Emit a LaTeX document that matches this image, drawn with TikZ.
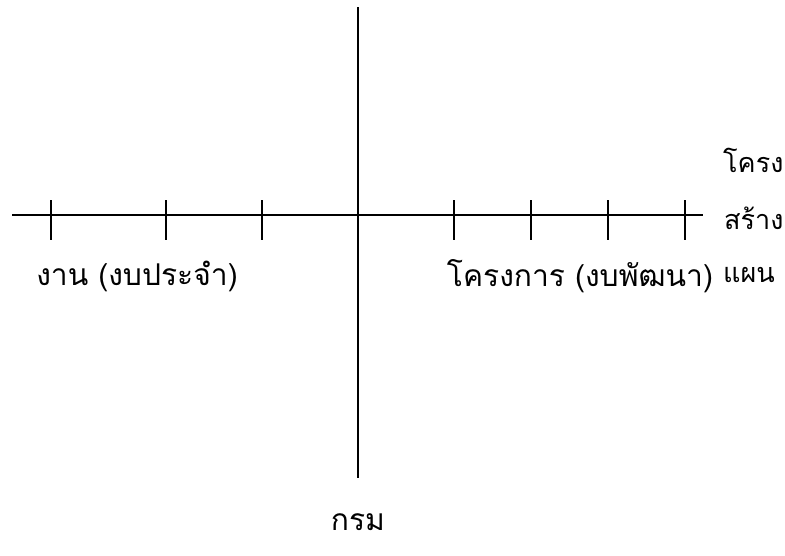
\documentclass[tikz,border=0pt]{standalone}
\usepackage{fontspec}
\newfontfamily\thaifont[Script=Thai]{Loma}
\begin{document}
\begin{tikzpicture}[x=1pt,y=-1pt,
  axis/.style={line width=1.4pt,black},
  tick/.style={line width=1.4pt,black},
  lbl/.style={font=\thaifont\fontsize{30}{34}\selectfont,inner sep=0pt,anchor=center},
  side/.style={font=\thaifont\fontsize{27}{32}\selectfont,inner sep=0pt,anchor=west}]
\useasboundingbox (0,0) rectangle (785,555);
\coordinate (vt) at (358,7);
\coordinate (vb) at (358,478);
\coordinate (hl) at (12,215);
\coordinate (hr) at (703,215);
\draw[axis] (vt) -- (vb);
\draw[axis] (hl) -- (hr);
\foreach \x in {51,166,262,454,531,608,685}{
  \draw[tick] (\x,200) -- (\x,240);
}
\node[side] (t1) at (723,160) {โครง};
\node[side] (t2) at (724,218) {สร้าง};
\node[side] (t3) at (723,275) {แผน};
\node[lbl] (l) at (137,276) {งาน (งบประจำ)};
\node[lbl] (r) at (580,276) {โครงการ (งบพัฒนา)};
\node[lbl] (b) at (358,522) {กรม};
\end{tikzpicture}
\end{document}
